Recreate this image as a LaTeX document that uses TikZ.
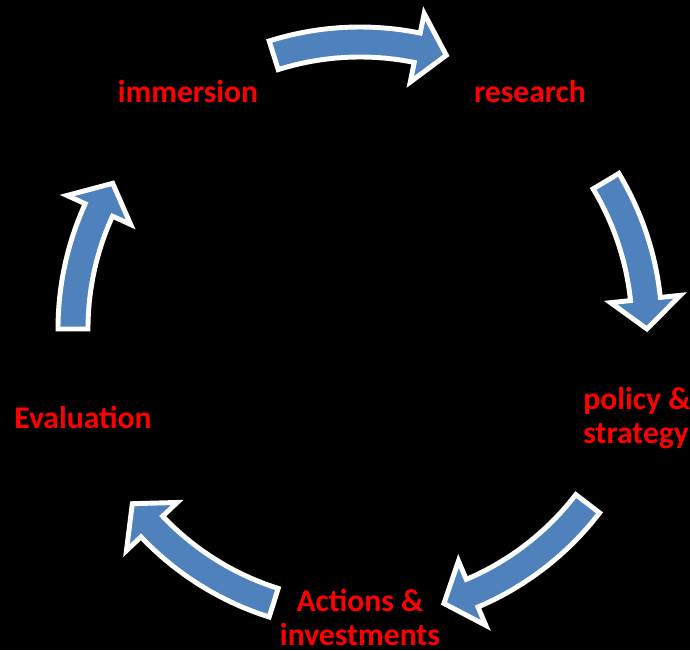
\documentclass[tikz,border=0pt]{standalone}
\usepackage{fontspec}
\setmainfont{Carlito}
\usetikzlibrary{positioning}
\definecolor{cycleblue}{RGB}{79,129,189}
\tikzstyle{stage} = [text=red, font=\bfseries\fontsize{18}{19}\selectfont, inner sep=0pt]
\tikzstyle{turn} = [fill=cycleblue, draw=white, line width=2.8pt, line join=miter]

\begin{document}
\begin{tikzpicture}[x=0.02cm, y=0.02cm]
  \fill[black] (0,0) rectangle (690,650);
  \useasboundingbox (0,0) rectangle (690,650);
  \coordinate (hub) at (360,321);

  % stages
  \node[stage, anchor=base] (immersion) at (188,547) {immersion};
  \node[stage, anchor=base] (research) at (530,547) {research};
  \node[stage, anchor=base west, align=left] (policy) at (583,207) {policy \&\\strategy};
  \node[stage, anchor=base, align=center] (actions) at (360,5) {Actions \&\\investments};
  \node[stage, anchor=base] (evaluation) at (83,222) {Evaluation};

  % arrows
  \foreach \tail/\tip in {107.5/72.5, 31/0, -37.5/-73, -107.5/-142.5, 180/149.5} {
    \pgfmathsetmacro\base{\tip+6}
    \draw[turn] ([shift={(\tail:302)}]hub) arc[start angle=\tail, end angle=\base, radius=302]
      -- ([shift={(\base:322)}]hub) -- ([shift={(\tip:287)}]hub) -- ([shift={(\base:252)}]hub)
      -- ([shift={(\base:272)}]hub) arc[start angle=\base, end angle=\tail, radius=272] -- cycle;
  }
\end{tikzpicture}
\end{document}
